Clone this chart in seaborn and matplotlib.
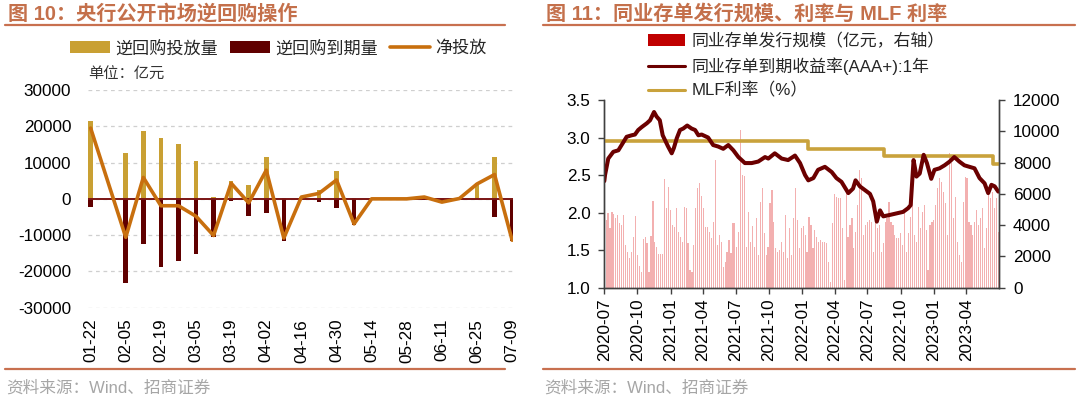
import numpy as np
import pandas as pd
import matplotlib
matplotlib.use("Agg")
import matplotlib.pyplot as plt
import matplotlib.dates as mdates
from matplotlib.patches import Patch
from matplotlib.lines import Line2D
import seaborn as sns

# ---------------- data: left chart (weekly reverse repo ops, 亿元) ----------------
weeks = ['01-22', '01-29', '02-05', '02-12', '02-19', '02-26', '03-05', '03-12', '03-19',
         '03-26', '04-02', '04-09', '04-16', '04-23', '04-30', '05-07', '05-14', '05-21',
         '05-28', '06-04', '06-11', '06-18', '06-25', '07-02', '07-09']
injection = [21500, 0, 12500, 18600, 16700, 15100, 10300, 400, 4800, 3700, 11600, 300,
             600, 2500, 7600, 300, 100, 100, 100, 700, 100, 200, 4300, 11600, 300]
maturity = [2300, 0, 23300, 12500, 18800, 17100, 15300, 10500, 600, 4800, 3900, 11500,
            100, 900, 2500, 7300, 100, 100, 100, 200, 1000, 100, 100, 4900, 11600]
net = [19500, np.nan, -10600, 5900, -1900, -1900, -4800, -10100, 4300, -1100, 7900, -10800,
       500, 1500, 5200, -6900, 0, 0, 0, 500, -900, 100, 4100, 6700, -11400]

# ---------------- data: right chart ----------------
ncd_dates = ['2020-07-01', '2020-07-03', '2020-07-12', '2020-07-26', '2020-08-09', '2020-08-18',
             '2020-09-01', '2020-09-15', '2020-09-24', '2020-10-03', '2020-10-13', '2020-10-27',
             '2020-11-05', '2020-11-16', '2020-11-23', '2020-12-02', '2020-12-10', '2020-12-16',
             '2020-12-25', '2021-01-04', '2021-01-10', '2021-01-18', '2021-01-27', '2021-02-05',
             '2021-02-16', '2021-02-28', '2021-03-10', '2021-03-19', '2021-03-28', '2021-04-06',
             '2021-04-15', '2021-04-29', '2021-05-13', '2021-05-27', '2021-06-10', '2021-06-24',
             '2021-07-08', '2021-07-26', '2021-08-14', '2021-09-01', '2021-09-20', '2021-09-29',
             '2021-10-17', '2021-11-05', '2021-11-23', '2021-12-12', '2021-12-26', '2022-01-09',
             '2022-01-18', '2022-02-01', '2022-02-14', '2022-03-05', '2022-03-24', '2022-04-06',
             '2022-04-20', '2022-05-09', '2022-05-22', '2022-05-29', '2022-06-10', '2022-06-24',
             '2022-07-08', '2022-07-17', '2022-07-27', '2022-08-05', '2022-08-14', '2022-09-02',
             '2022-09-20', '2022-10-08', '2022-10-22', '2022-10-29', '2022-11-06', '2022-11-14',
             '2022-11-23', '2022-12-04', '2022-12-13', '2022-12-25', '2023-01-03', '2023-01-17',
             '2023-01-31', '2023-02-14', '2023-02-27', '2023-03-13', '2023-03-27', '2023-04-10',
             '2023-04-24', '2023-05-08', '2023-05-22', '2023-06-01', '2023-06-10', '2023-06-19',
             '2023-06-29']
ncd_yield = [2.42, 2.50, 2.72, 2.81, 2.83, 2.90, 3.01, 3.03, 3.04, 3.10, 3.14, 3.19,
             3.23, 3.34, 3.28, 3.23, 3.03, 2.97, 2.88, 2.79, 2.86, 2.99, 3.10, 3.12,
             3.16, 3.12, 3.10, 3.03, 3.04, 3.02, 3.00, 2.90, 2.88, 2.85, 2.90, 2.83,
             2.74, 2.66, 2.66, 2.68, 2.74, 2.72, 2.79, 2.72, 2.70, 2.76, 2.66, 2.50,
             2.43, 2.46, 2.57, 2.61, 2.54, 2.46, 2.41, 2.26, 2.32, 2.43, 2.35, 2.30,
             2.25, 2.15, 1.88, 2.03, 1.95, 1.97, 1.99, 2.01, 2.06, 2.10, 2.70, 2.48,
             2.52, 2.77, 2.66, 2.45, 2.57, 2.59, 2.63, 2.68, 2.74, 2.68, 2.63, 2.61,
             2.59, 2.46, 2.39, 2.26, 2.37, 2.35, 2.28]

mlf_dates = ['2020-07-01', '2022-01-17', '2022-08-15', '2023-06-15', '2023-07-01']
mlf_rate = [2.95, 2.85, 2.75, 2.65, 2.65]

issue_start, issue_end = '2020-07-06', '2023-06-29'
issuance = [4330, 4750, 3800, 4820, 4690, 4430, 4650, 4110, 4000, 4650, 2730, 2300, 1880, 2300,
            3260, 4600, 2090, 1410, 1020, 3110, 3260, 2840, 1020, 3330, 5540, 2940, 2620, 2130,
            2130, 2130, 6950, 5070, 6460, 4970, 4000, 3900, 5070, 3580, 3260, 2940, 5160, 5120,
            2840, 1130, 1020, 2730, 5070, 6350, 6670, 5880, 5120, 3900, 3900, 3580, 3160, 4220,
            8170, 2730, 3370, 2940, 1340, 1660, 2300, 3050, 2200, 4110,
            4110, 2620, 3580, 10080, 7200, 7160, 2620, 4820, 2940, 3970, 2620, 4430, 2090, 5500,
            6400, 3480, 2090, 2620, 5390, 6250, 4220, 2520, 2300, 2410, 2940, 2300, 4650, 1880,
            3800, 2090, 4430, 6350, 4330, 2520, 3800, 3970, 3370, 2300, 4540, 4010, 2520, 3690,
            3260, 2940, 3050, 2940, 2940, 2840, 1660, 380, 4110, 5970, 5820, 5710, 5710, 3800,
            490, 6030, 3260, 4010, 4430, 2520, 3580, 5290, 7530, 6990, 3370, 4010, 4220,
            4330, 4220, 2300, 4220, 3800, 4010, 2300, 2840, 4220, 4430, 5500, 4220, 4010, 3370,
            3160, 3160, 3480, 2730, 4860, 2300, 3480, 4540, 5930, 3370, 2940, 5180, 3800, 4860,
            5290, 3690, 1130, 4010, 4220, 4330, 5290, 6350, 6990, 6780, 6140, 5390, 3370, 8590,
            7950, 4430, 5820, 2940, 2090, 1660, 5500, 7100, 6990, 4220, 4010, 3370, 4220, 4970,
            4010, 4430, 5070, 2520, 3800, 5930, 5710, 6140, 5070, 5710, 3580]

# ---------------- style ----------------
sns.set_theme(style="white")
plt.rcParams['font.family'] = ['Liberation Sans', 'Noto Sans CJK SC']
plt.rcParams['axes.unicode_minus'] = False

TITLE_C = '#C4704B'
GOLD = '#C9A033'
MAROON = '#600000'
ORANGE = '#C86F0E'
BAR_PINK = '#F3B0B0'
W, H = 1080, 396
fig = plt.figure(figsize=(W / 100, H / 100), dpi=100)

def fx(px):
    return px / W

def fy(py):
    return 1 - py / H

# titles and separators
fig.text(fx(8), fy(14), '图 10：央行公开市场逆回购操作', fontsize=14.5, fontweight='bold',
         color=TITLE_C, ha='left', va='center')
fig.text(fx(546), fy(14), '图 11：同业存单发行规模、利率与 MLF 利率', fontsize=14.5,
         fontweight='bold', color=TITLE_C, ha='left', va='center')
for x0, x1 in [(5, 505), (543, 1075)]:
    fig.add_artist(Line2D([fx(x0), fx(x1)], [fy(25), fy(25)], color='#C8704F', lw=1.6))
    fig.add_artist(Line2D([fx(x0), fx(x1)], [fy(369), fy(369)], color='#C8704F', lw=1.6))
fig.text(fx(6), fy(388), '资料来源：Wind、招商证券', fontsize=12, color='#A6A6A6',
         ha='left', va='center')
fig.text(fx(544), fy(388), '资料来源：Wind、招商证券', fontsize=12, color='#A6A6A6',
         ha='left', va='center')

# ---------------- left chart ----------------
axL = fig.add_axes([fx(88), fy(307.7), fx(513 - 88), (307.7 - 90) / H])
dfL = pd.DataFrame({'week': weeks, 'inj': injection,
                    'mat': [-m for m in maturity], 'net': net})
sns.barplot(data=dfL, x='week', y='inj', color=GOLD, width=0.26, linewidth=0,
            edgecolor='none', errorbar=None, saturation=1, ax=axL, zorder=2)
sns.barplot(data=dfL, x='week', y='mat', color=MAROON, width=0.26, linewidth=0,
            edgecolor='none', errorbar=None, saturation=1, ax=axL, zorder=2)
valid = dfL.dropna(subset=['net'])
sns.lineplot(x=valid.index.to_numpy(), y=valid['net'].to_numpy(), color=ORANGE, lw=2.6,
             ax=axL, zorder=4)
axL.axhline(0, color='#7A1414', lw=1.4, zorder=3)
axL.set_ylim(-30000, 30000)
axL.set_xlim(-0.15, len(weeks) - 0.95)
axL.set_yticks(np.arange(-30000, 30001, 10000))
axL.set_yticklabels([f'{v}' for v in range(-30000, 30001, 10000)])
axL.set_xticks(range(0, len(weeks), 2))
axL.set_xticklabels(weeks[::2], rotation=90)
axL.yaxis.grid(True, color='#CFCFCF', lw=0.9, ls=(0, (3, 3)))
axL.xaxis.grid(False)
for s in axL.spines.values():
    s.set_visible(False)
axL.tick_params(axis='both', length=0, labelsize=12.3, colors='black')
axL.tick_params(axis='x', pad=8)
axL.tick_params(axis='y', pad=12)
axL.set_xlabel('')
axL.set_ylabel('')
fig.text(fx(88), fy(75), '单位：亿元', fontsize=11, color='#333333', ha='left', va='center')

legL = fig.legend(handles=[Patch(facecolor=GOLD, edgecolor='none', label='逆回购投放量'),
                           Patch(facecolor=MAROON, edgecolor='none', label='逆回购到期量'),
                           Line2D([], [], color=ORANGE, lw=2.6, label='净投放')],
                  loc='upper left', bbox_to_anchor=(fx(70), fy(40)), ncol=3, frameon=False,
                  fontsize=12.3, borderpad=0, borderaxespad=0, handlelength=2.35,
                  handletextpad=0.3, columnspacing=0.7)

# ---------------- right chart ----------------
axB = fig.add_axes([fx(604.3), fy(287.7), fx(999 - 604.3), (287.7 - 100) / H])
bar_dates = pd.date_range(issue_start, issue_end, periods=len(issuance))
bar_x = mdates.date2num(bar_dates.to_pydatetime())
sns.barplot(x=bar_x, y=issuance, native_scale=True, width=0.6, color=BAR_PINK,
            linewidth=0, edgecolor='none', errorbar=None, saturation=1, ax=axB)
axB.set_ylim(0, 12000)
axB.set_yticks(np.arange(0, 12001, 2000))
axB.yaxis.tick_right()

axY = axB.twinx()
axY.yaxis.tick_left()
yx = mdates.date2num(pd.to_datetime(ncd_dates).to_pydatetime())
mx = mdates.date2num(pd.to_datetime(mlf_dates).to_pydatetime())
sns.lineplot(x=mx, y=mlf_rate, color='#C9A23C', lw=2.6, drawstyle='steps-post', ax=axY)
sns.lineplot(x=yx, y=ncd_yield, color='#6B0000', lw=2.9, ax=axY)
axY.set_ylim(1.0, 3.5)
axY.set_yticks(np.arange(1.0, 3.51, 0.5))
axY.set_yticklabels([f'{v:.1f}' for v in np.arange(1.0, 3.51, 0.5)])

xmin = mdates.date2num(pd.Timestamp('2020-07-01').to_pydatetime())
xmax = mdates.date2num(pd.Timestamp('2023-07-01').to_pydatetime())
axB.set_xlim(xmin, xmax)
tick_dates = pd.date_range('2020-07-01', '2023-04-01', freq='QS-JAN')
axB.set_xticks(mdates.date2num(tick_dates.to_pydatetime()))
axB.set_xticklabels([d.strftime('%Y-%m') for d in tick_dates], rotation=90)

for ax in (axB, axY):
    ax.grid(False)
    ax.set_xlabel('')
    ax.set_ylabel('')
    for s in ax.spines.values():
        s.set_color('#404040')
        s.set_linewidth(1.0)
    ax.spines['top'].set_visible(False)
    ax.tick_params(axis='both', direction='out', length=4, width=1, color='#404040',
                   labelsize=12.3, labelcolor='black')
axY.tick_params(axis='y', left=True, right=False, labelleft=True, labelright=False, pad=6)
axB.tick_params(axis='y', left=False, right=True, labelleft=False, labelright=True, pad=6)
axB.tick_params(axis='x', bottom=True, pad=4)

legR = fig.legend(handles=[Patch(facecolor='#C00000', edgecolor='none',
                                 label='同业存单发行规模（亿元，右轴）'),
                           Line2D([], [], color='#6B0000', lw=2.2,
                                  label='同业存单到期收益率(AAA+):1年'),
                           Line2D([], [], color='#C9A23C', lw=2.2, label='MLF利率（%）')],
                  loc='upper left', bbox_to_anchor=(fx(648), fy(33)), ncol=1, frameon=False,
                  fontsize=12.2, borderpad=0, borderaxespad=0, handlelength=2.2,
                  handletextpad=0.35, labelspacing=0.45)

fig.savefig('out.png', dpi=100)
